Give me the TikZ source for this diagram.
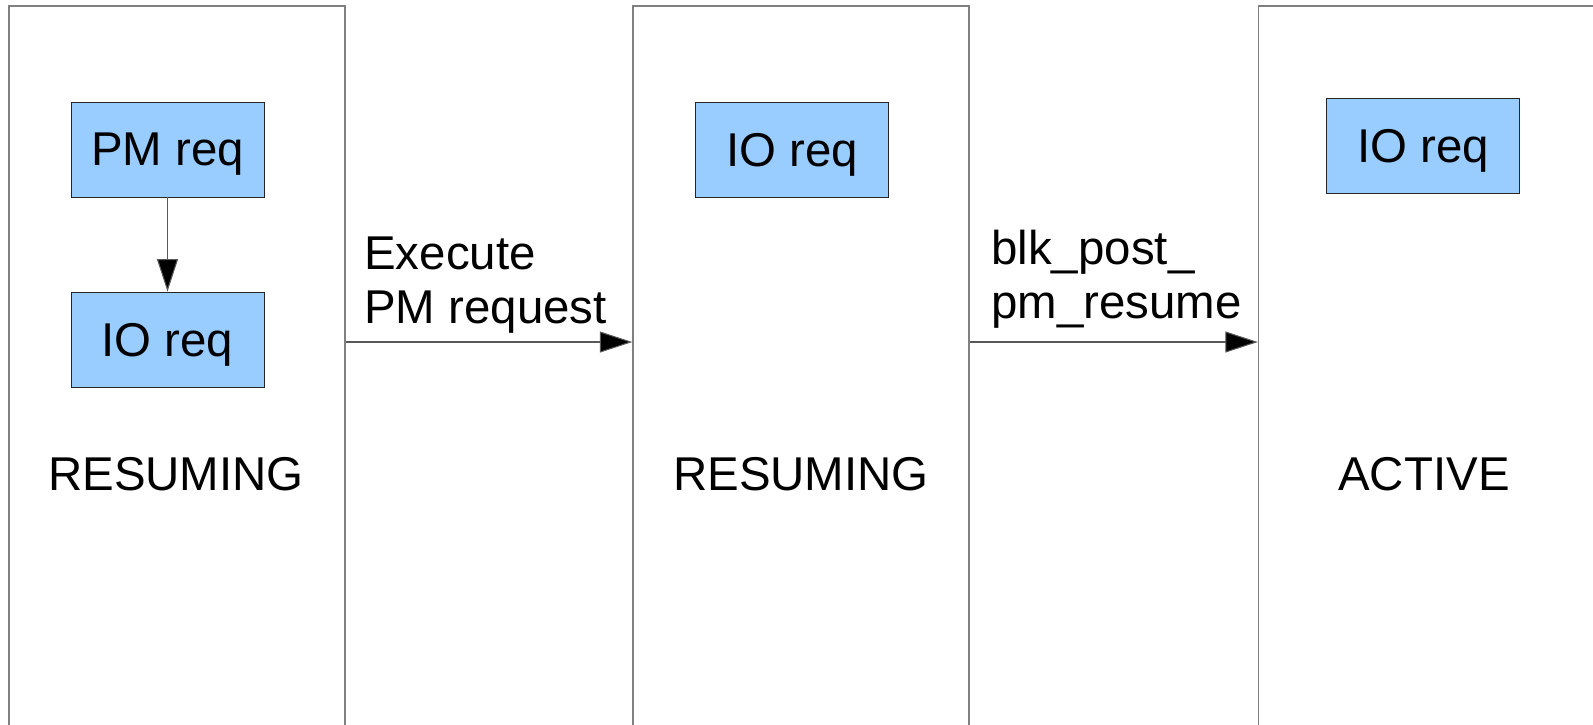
\documentclass[tikz,border=0pt]{standalone}
\usepackage{fontspec}
\setmainfont{Liberation Sans}
\usetikzlibrary{arrows.meta}
\definecolor{reqblue}{HTML}{99CCFF}
\definecolor{framegray}{HTML}{808080}
\begin{document}
\begin{tikzpicture}[x=0.02cm,y=-0.02cm,
        every node/.style={font=\fontsize{27}{30.6}\selectfont},
        state/.style={draw=framegray,line width=0.8pt,minimum width=6.72cm,minimum height=15.08cm,inner sep=0pt},
        req/.style={draw=black!85,fill=reqblue,line width=0.5pt,minimum width=3.86cm,minimum height=1.9cm,inner sep=0pt,text depth=0pt},
        flow/.style={draw=black!65,line width=0.6pt,-{Triangle[length=0.65cm,width=0.42cm,fill=black]}},
        lbl/.style={anchor=base west,align=left,inner sep=0pt}]
            \useasboundingbox (0,0) rectangle (1593,724);
            \clip (0,0) rectangle (1593,724);
            % the three states
            \node[state] (s1) at (177,383) {};
            \node[state] (s2) at (801,383) {};
            \node[state,minimum width=6.9cm] (s3) at (1431,383) {};
            \node (t1) at (176,474) {RESUMING};
            \node (t2) at (801,474) {RESUMING};
            \node (t3) at (1424,474) {ACTIVE};
            % requests
            \node[req] (pm1) at (167.5,149.5) {PM req};
            \node[req] (io1) at (167.5,339.5) {IO req};
            \node[req] (io2) at (792,149.5) {IO req};
            \node[req] (io3) at (1423,145.5) {IO req};
            \draw[flow] (pm1) -- (io1);
            % transitions
            \draw[flow] ([yshift=0.82cm]s1.east) -- ([yshift=0.82cm]s2.west);
            \draw[flow] ([yshift=0.82cm]s2.east) -- ([yshift=0.82cm]s3.west);
            \node[lbl] (e1) at (364,323) {Execute\\PM request};
            \node[lbl] (e2) at (991,318) {blk\_post\_\\pm\_resume};
        \end{tikzpicture}
\end{document}
